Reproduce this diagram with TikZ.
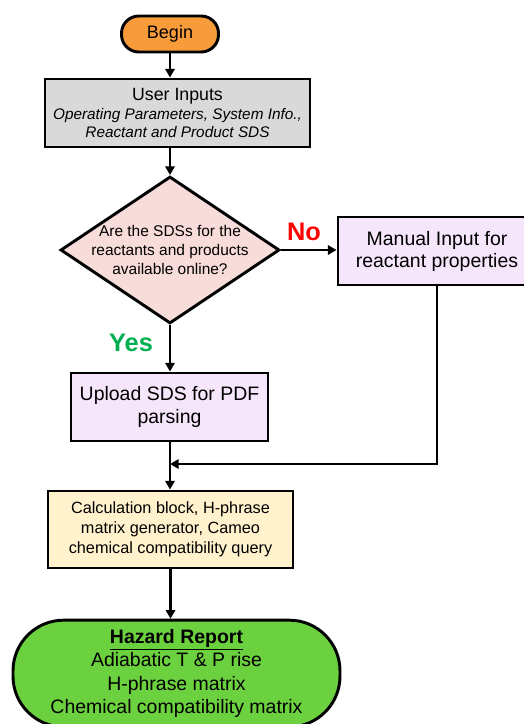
\documentclass[tikz,border=0pt]{standalone}
\usepackage{fontspec}
\setmainfont{Liberation Sans}
\usetikzlibrary{shapes.geometric,arrows.meta}
\definecolor{cBegin}{HTML}{F79B3B}
\definecolor{cUser}{HTML}{D9D9D9}
\definecolor{cDec}{HTML}{F8DCDA}
\definecolor{cProc}{HTML}{F6E6FB}
\definecolor{cCalc}{HTML}{FFF2CC}
\definecolor{cRep}{HTML}{6CD13F}
\definecolor{cNo}{HTML}{FF0000}
\definecolor{cYes}{HTML}{00B050}
\begin{document}
\begin{tikzpicture}[x=0.75pt,y=-0.75pt,
  box/.style={draw=black, line width=2.2pt, inner sep=0pt, align=center},
  arr/.style={line width=2pt, -{Triangle[length=6.5pt,width=7pt]}}]
\clip (0,0) rectangle (524,724);
\fill[white] (0,0) rectangle (524,724);
% nodes
\node[box, fill=cBegin, rounded corners=13pt, minimum width=72.75pt, minimum height=27pt,
      font=\fontsize{13.5}{16}\selectfont] (begin) at (170,34) {Begin};
\node[box, fill=cUser, minimum width=198.75pt, minimum height=51pt,
      font=\fontsize{11.5}{14}\selectfont] (user) at (177.5,113)
  {{\fontsize{13.3}{14}\selectfont User Inputs}\\
   {\itshape Operating Parameters, System Info.,}\\
   {\itshape Reactant and Product SDS}};
\node[draw=black, line width=2.2pt, shape=diamond, fill=cDec, inner sep=0pt,
      minimum width=164.25pt, minimum height=110.25pt] (dec) at (170,250) {};
\node[align=center, inner sep=0pt, font=\fontsize{11.6}{13.9}\selectfont] (dectext) at (dec.center)
  {Are the SDSs for the\\ reactants and products\\ available online?};
\node[box, fill=cProc, minimum width=148.5pt, minimum height=51pt,
      font=\fontsize{14.6}{16.5}\selectfont] (man) at (437,251)
  {Manual Input for\\ reactant properties};
\node[box, fill=cProc, minimum width=147.75pt, minimum height=51pt,
      font=\fontsize{14.6}{17.2}\selectfont] (upl) at (169.5,407)
  {Upload SDS for PDF\\ parsing};
\node[box, fill=cCalc, minimum width=183.75pt, minimum height=57.75pt,
      font=\fontsize{12.2}{15}\selectfont] (calc) at (170.5,529.5)
  {Calculation block, H-phrase\\ matrix generator, Cameo\\ chemical compatibility query};
\node[box, fill=cRep, rounded corners=38pt, minimum width=245.25pt, minimum height=80pt,
      font=\fontsize{14.6}{17.5}\selectfont] (rep) at (176.5,673.5)
  {\underline{\textbf{Hazard Report}}\\ Adiabatic T \& P rise\\ H-phrase matrix\\ Chemical compatibility matrix};
% labels
\node[font=\fontsize{19}{22}\selectfont\bfseries, text=cNo, inner sep=0pt] (nolab) at (304,232) {No};
\node[font=\fontsize{19}{22}\selectfont\bfseries, text=cYes, inner sep=0pt] (yeslab) at (131,343) {Yes};
% connectors
\coordinate (mrg) at (170,464);
\draw[arr] (begin.south) -- (begin.south |- user.north);
\draw[arr] (begin.south |- user.south) -- (dec.north);
\draw[arr] (dec.east) -- (dec.east -| man.west);
\draw[arr] (dec.south) -- (dec.south |- upl.north);
\draw[arr] (dec.south |- upl.south) -- (dec.south |- calc.north);
\draw[arr] (man.south) |- (mrg);
\draw[arr] (calc.south) -- (calc.south |- rep.north);
\end{tikzpicture}
\end{document}
